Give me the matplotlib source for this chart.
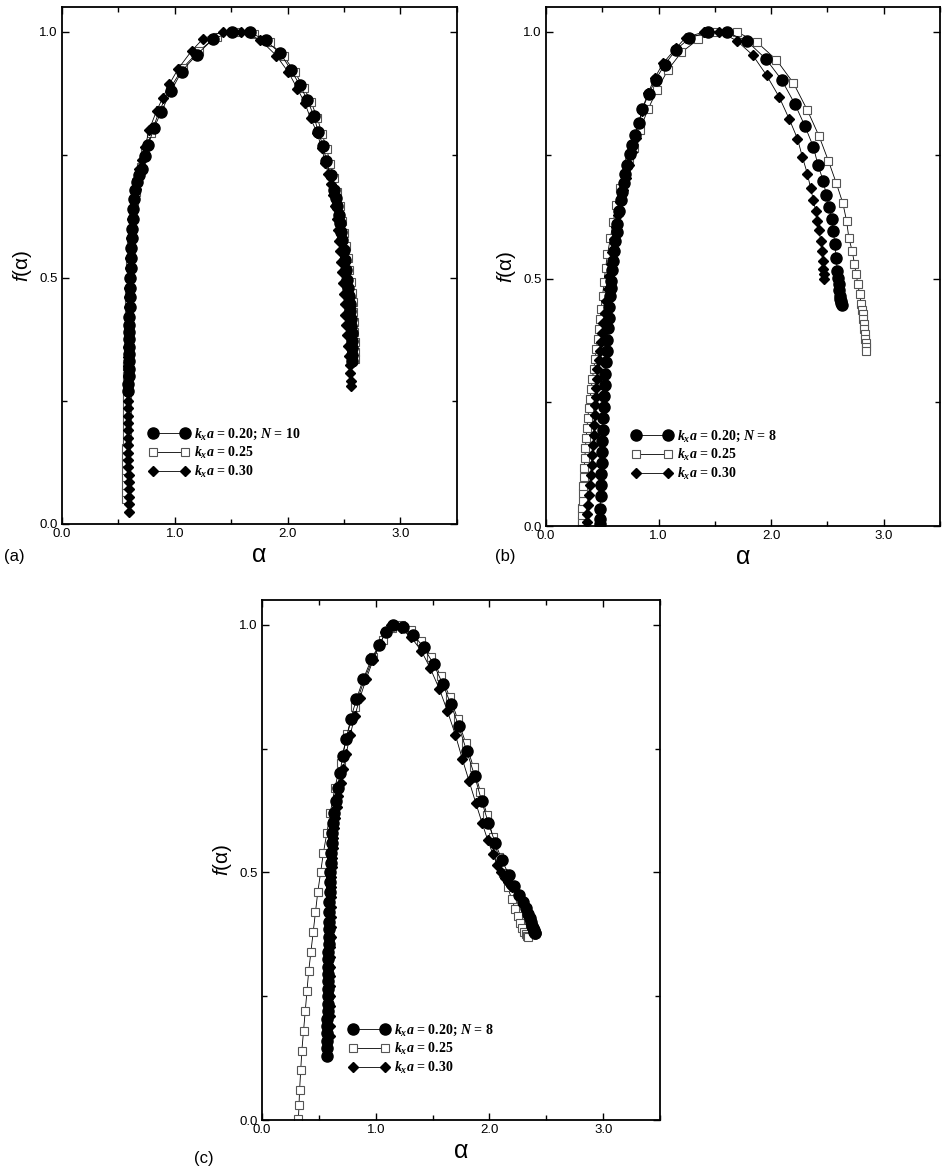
import matplotlib
matplotlib.use("Agg")
import matplotlib.pyplot as plt
from matplotlib.ticker import MultipleLocator, FormatStrFormatter

plt.rcParams['font.family'] = ['Liberation Sans', 'DejaVu Sans']
plt.rcParams['mathtext.fontset'] = 'custom'
plt.rcParams['mathtext.it'] = 'Liberation Serif:italic:bold'
plt.rcParams['mathtext.rm'] = 'Liberation Serif:bold'
plt.rcParams['mathtext.sf'] = 'Liberation Sans:italic'

# ---- panel (a): N = 10 ----  (alpha, f(alpha)) pairs
a_k020 = [(0.588, 0.270), (0.589, 0.285), (0.590, 0.300), (0.591, 0.315), (0.592, 0.330), (0.593, 0.345),
          (0.594, 0.360), (0.595, 0.375), (0.596, 0.390), (0.597, 0.405), (0.598, 0.420), (0.600, 0.440),
          (0.602, 0.460), (0.604, 0.480), (0.606, 0.500), (0.608, 0.520), (0.611, 0.540), (0.614, 0.560),
          (0.617, 0.580), (0.621, 0.600), (0.626, 0.620), (0.632, 0.640), (0.640, 0.660), (0.650, 0.678),
          (0.664, 0.695), (0.684, 0.708), (0.706, 0.720), (0.735, 0.747), (0.765, 0.770), (0.815, 0.804),
          (0.877, 0.836), (0.966, 0.879), (1.060, 0.919), (1.193, 0.953), (1.340, 0.985), (1.503, 1.000),
          (1.665, 0.999), (1.804, 0.982), (1.931, 0.957), (2.028, 0.923), (2.108, 0.891), (2.173, 0.862),
          (2.232, 0.829), (2.270, 0.797), (2.315, 0.767), (2.344, 0.737), (2.380, 0.709), (2.410, 0.679),
          (2.425, 0.662), (2.439, 0.645), (2.452, 0.628), (2.463, 0.611), (2.475, 0.594), (2.486, 0.577),
          (2.497, 0.557), (2.507, 0.537), (2.518, 0.516), (2.528, 0.496), (2.537, 0.479), (2.545, 0.462),
          (2.551, 0.447), (2.556, 0.432), (2.560, 0.417), (2.563, 0.402), (2.566, 0.387), (2.568, 0.372),
          (2.570, 0.358), (2.572, 0.344), (2.574, 0.330)]
a_k025 = [(0.568, 0.050), (0.568, 0.065), (0.569, 0.080), (0.569, 0.095), (0.570, 0.110), (0.570, 0.125),
          (0.571, 0.140), (0.571, 0.155), (0.572, 0.170), (0.572, 0.185), (0.573, 0.200), (0.573, 0.215),
          (0.574, 0.230), (0.574, 0.245), (0.575, 0.260), (0.576, 0.280), (0.578, 0.300), (0.580, 0.320),
          (0.582, 0.340), (0.584, 0.360), (0.586, 0.380), (0.588, 0.400), (0.591, 0.425), (0.594, 0.450),
          (0.597, 0.475), (0.600, 0.500), (0.604, 0.525), (0.608, 0.550), (0.613, 0.575), (0.619, 0.600),
          (0.627, 0.625), (0.637, 0.650), (0.652, 0.675), (0.672, 0.700), (0.700, 0.725), (0.740, 0.755),
          (0.791, 0.794), (0.865, 0.840), (0.960, 0.885), (1.070, 0.926), (1.210, 0.960), (1.370, 0.990),
          (1.540, 1.000), (1.700, 0.996), (1.840, 0.978), (1.965, 0.950), (2.063, 0.918), (2.143, 0.886),
          (2.208, 0.857), (2.262, 0.825), (2.305, 0.793), (2.345, 0.762), (2.378, 0.732), (2.410, 0.703),
          (2.440, 0.674), (2.462, 0.645), (2.482, 0.616), (2.500, 0.590), (2.518, 0.565), (2.533, 0.540),
          (2.546, 0.515), (2.558, 0.492), (2.568, 0.470), (2.576, 0.450), (2.582, 0.430), (2.587, 0.410),
          (2.591, 0.390), (2.594, 0.370), (2.596, 0.350), (2.598, 0.335)]
a_k030 = [(0.598, 0.025), (0.595, 0.040), (0.593, 0.055), (0.592, 0.070), (0.591, 0.085), (0.590, 0.100),
          (0.589, 0.115), (0.588, 0.130), (0.588, 0.145), (0.587, 0.160), (0.587, 0.175), (0.586, 0.190),
          (0.586, 0.205), (0.586, 0.220), (0.586, 0.235), (0.586, 0.250), (0.586, 0.265), (0.586, 0.280),
          (0.587, 0.300), (0.587, 0.320), (0.588, 0.340), (0.589, 0.360), (0.590, 0.380), (0.591, 0.400),
          (0.592, 0.420), (0.594, 0.440), (0.596, 0.460), (0.598, 0.480), (0.600, 0.500), (0.603, 0.520),
          (0.606, 0.540), (0.610, 0.560), (0.614, 0.580), (0.619, 0.600), (0.625, 0.620), (0.632, 0.640),
          (0.641, 0.660), (0.652, 0.680), (0.666, 0.700), (0.684, 0.720), (0.706, 0.740), (0.735, 0.765),
          (0.774, 0.801), (0.838, 0.839), (0.892, 0.865), (0.951, 0.893), (1.031, 0.925), (1.149, 0.961),
          (1.252, 0.986), (1.430, 1.000), (1.591, 1.000), (1.753, 0.984), (1.901, 0.951), (2.005, 0.918),
          (2.087, 0.884), (2.152, 0.855), (2.203, 0.824), (2.262, 0.794), (2.300, 0.764), (2.335, 0.734),
          (2.359, 0.711), (2.380, 0.690), (2.400, 0.668), (2.418, 0.645), (2.433, 0.620), (2.445, 0.597),
          (2.455, 0.575), (2.463, 0.555), (2.472, 0.533), (2.480, 0.512), (2.488, 0.490), (2.496, 0.468),
          (2.504, 0.447), (2.512, 0.425), (2.520, 0.404), (2.528, 0.383), (2.536, 0.362), (2.543, 0.342),
          (2.550, 0.323), (2.556, 0.306), (2.561, 0.291), (2.565, 0.280)]

# ---- panel (b): N = 8 ----
b_k020 = [(0.478, 0.005), (0.479, 0.015), (0.481, 0.035), (0.484, 0.060), (0.487, 0.083), (0.490, 0.105),
          (0.493, 0.128), (0.496, 0.150), (0.500, 0.172), (0.503, 0.195), (0.507, 0.218), (0.512, 0.240),
          (0.517, 0.263), (0.522, 0.286), (0.528, 0.308), (0.534, 0.331), (0.540, 0.354), (0.546, 0.377),
          (0.551, 0.400), (0.556, 0.421), (0.561, 0.443), (0.567, 0.465), (0.575, 0.482), (0.581, 0.496),
          (0.590, 0.517), (0.599, 0.537), (0.608, 0.557), (0.617, 0.577), (0.626, 0.595), (0.634, 0.611),
          (0.652, 0.638), (0.664, 0.659), (0.675, 0.676), (0.690, 0.694), (0.705, 0.713), (0.723, 0.730),
          (0.743, 0.752), (0.764, 0.770), (0.788, 0.791), (0.823, 0.816), (0.855, 0.843), (0.912, 0.874),
          (0.973, 0.903), (1.053, 0.933), (1.156, 0.964), (1.274, 0.987), (1.436, 1.000), (1.608, 0.999),
          (1.785, 0.981), (1.953, 0.945), (2.092, 0.903), (2.210, 0.854), (2.298, 0.810), (2.375, 0.767),
          (2.416, 0.730), (2.463, 0.698), (2.490, 0.669), (2.516, 0.645), (2.540, 0.621), (2.552, 0.597),
          (2.566, 0.570), (2.578, 0.543), (2.587, 0.516), (2.594, 0.502), (2.599, 0.489), (2.604, 0.477),
          (2.608, 0.466), (2.613, 0.460), (2.617, 0.455), (2.621, 0.451), (2.625, 0.448)]
b_k025 = [(0.316, 0.003), (0.318, 0.010), (0.320, 0.022), (0.323, 0.036), (0.326, 0.050), (0.329, 0.066),
          (0.332, 0.082), (0.336, 0.100), (0.340, 0.118), (0.345, 0.138), (0.350, 0.158), (0.356, 0.178),
          (0.363, 0.198), (0.371, 0.218), (0.380, 0.238), (0.390, 0.258), (0.401, 0.278), (0.412, 0.298),
          (0.424, 0.318), (0.436, 0.338), (0.447, 0.358), (0.458, 0.378), (0.468, 0.398), (0.478, 0.418),
          (0.490, 0.440), (0.502, 0.465), (0.515, 0.493), (0.529, 0.522), (0.546, 0.550), (0.572, 0.583),
          (0.596, 0.615), (0.625, 0.649), (0.660, 0.683), (0.700, 0.712), (0.740, 0.737), (0.782, 0.765),
          (0.832, 0.801), (0.906, 0.843), (0.988, 0.883), (1.083, 0.923), (1.201, 0.958), (1.354, 0.985),
          (1.510, 1.000), (1.693, 1.000), (1.873, 0.979), (2.047, 0.943), (2.198, 0.896), (2.322, 0.841),
          (2.425, 0.789), (2.508, 0.739), (2.578, 0.694), (2.637, 0.653), (2.670, 0.617), (2.690, 0.583),
          (2.720, 0.556), (2.740, 0.530), (2.755, 0.509), (2.770, 0.489), (2.785, 0.469), (2.800, 0.449),
          (2.807, 0.438), (2.814, 0.428), (2.819, 0.418), (2.823, 0.408), (2.828, 0.398), (2.832, 0.388),
          (2.835, 0.379), (2.838, 0.371), (2.840, 0.362), (2.841, 0.354)]
b_k030 = [(0.360, 0.008), (0.365, 0.025), (0.375, 0.042), (0.382, 0.062), (0.389, 0.083), (0.396, 0.103),
          (0.404, 0.123), (0.411, 0.143), (0.419, 0.164), (0.424, 0.185), (0.428, 0.205), (0.431, 0.225),
          (0.434, 0.245), (0.441, 0.262), (0.448, 0.279), (0.452, 0.298), (0.457, 0.317), (0.467, 0.336),
          (0.478, 0.354), (0.488, 0.372), (0.498, 0.391), (0.510, 0.410), (0.523, 0.432), (0.537, 0.455),
          (0.550, 0.480), (0.562, 0.505), (0.575, 0.530), (0.590, 0.555), (0.606, 0.580), (0.622, 0.605),
          (0.640, 0.630), (0.660, 0.655), (0.682, 0.680), (0.707, 0.705), (0.735, 0.730), (0.765, 0.757),
          (0.800, 0.785), (0.850, 0.840), (0.906, 0.876), (0.965, 0.906), (1.038, 0.936), (1.156, 0.967),
          (1.239, 0.988), (1.407, 1.000), (1.540, 1.000), (1.693, 0.982), (1.835, 0.953), (1.959, 0.912),
          (2.071, 0.868), (2.159, 0.824), (2.233, 0.784), (2.277, 0.747), (2.321, 0.713), (2.351, 0.683),
          (2.375, 0.659), (2.395, 0.638), (2.410, 0.618), (2.425, 0.598), (2.440, 0.577), (2.449, 0.557),
          (2.457, 0.537), (2.463, 0.520), (2.466, 0.510), (2.469, 0.500)]

# ---- panel (c): N = 8 ----
c_k020 = [(0.570, 0.130), (0.571, 0.145), (0.572, 0.160), (0.573, 0.175), (0.574, 0.190), (0.575, 0.205),
          (0.576, 0.220), (0.577, 0.235), (0.578, 0.250), (0.579, 0.265), (0.580, 0.280), (0.581, 0.295),
          (0.582, 0.310), (0.583, 0.325), (0.584, 0.340), (0.585, 0.355), (0.586, 0.370), (0.587, 0.385),
          (0.588, 0.400), (0.590, 0.420), (0.592, 0.440), (0.594, 0.460), (0.597, 0.480), (0.600, 0.500),
          (0.604, 0.520), (0.608, 0.540), (0.613, 0.560), (0.619, 0.580), (0.627, 0.600), (0.637, 0.620),
          (0.650, 0.645), (0.665, 0.670), (0.684, 0.700), (0.710, 0.735), (0.740, 0.770), (0.780, 0.810),
          (0.830, 0.850), (0.890, 0.890), (0.960, 0.930), (1.030, 0.960), (1.090, 0.985), (1.150, 1.000),
          (1.240, 0.995), (1.330, 0.980), (1.420, 0.955), (1.510, 0.920), (1.590, 0.880), (1.660, 0.840),
          (1.730, 0.795), (1.800, 0.745), (1.870, 0.695), (1.930, 0.645), (1.990, 0.600), (2.050, 0.560),
          (2.110, 0.525), (2.170, 0.495), (2.220, 0.472), (2.260, 0.455), (2.295, 0.440), (2.320, 0.428),
          (2.340, 0.417), (2.355, 0.407), (2.367, 0.399), (2.376, 0.392), (2.383, 0.387), (2.389, 0.383),
          (2.394, 0.380), (2.398, 0.378), (2.401, 0.377)]
c_k025 = [(0.320, 0.003), (0.325, 0.030), (0.330, 0.060), (0.340, 0.100), (0.350, 0.140), (0.365, 0.180),
          (0.380, 0.220), (0.395, 0.260), (0.410, 0.300), (0.430, 0.340), (0.450, 0.380), (0.470, 0.420),
          (0.490, 0.460), (0.515, 0.500), (0.540, 0.540), (0.570, 0.580), (0.600, 0.620), (0.640, 0.670),
          (0.690, 0.720), (0.750, 0.780), (0.820, 0.835), (0.900, 0.890), (0.980, 0.935), (1.060, 0.970),
          (1.140, 0.993), (1.220, 1.000), (1.310, 0.990), (1.400, 0.967), (1.490, 0.935), (1.570, 0.897),
          (1.650, 0.855), (1.720, 0.810), (1.790, 0.762), (1.860, 0.712), (1.920, 0.663), (1.980, 0.615),
          (2.030, 0.572), (2.080, 0.532), (2.120, 0.498), (2.160, 0.470), (2.195, 0.447), (2.225, 0.427),
          (2.250, 0.411), (2.270, 0.398), (2.290, 0.388), (2.305, 0.380), (2.318, 0.375), (2.328, 0.371),
          (2.335, 0.369)]
c_k030 = [(0.595, 0.170), (0.595, 0.190), (0.596, 0.210), (0.596, 0.230), (0.597, 0.250), (0.598, 0.270),
          (0.599, 0.290), (0.600, 0.310), (0.601, 0.330), (0.602, 0.350), (0.603, 0.370), (0.604, 0.390),
          (0.605, 0.410), (0.606, 0.430), (0.607, 0.450), (0.608, 0.470), (0.609, 0.490), (0.612, 0.510),
          (0.616, 0.530), (0.621, 0.550), (0.627, 0.570), (0.635, 0.590), (0.645, 0.610), (0.657, 0.632),
          (0.672, 0.655), (0.690, 0.680), (0.712, 0.708), (0.740, 0.740), (0.775, 0.777), (0.815, 0.815),
          (0.860, 0.852), (0.915, 0.890), (0.975, 0.928), (1.040, 0.962), (1.085, 0.985), (1.130, 1.000),
          (1.220, 0.993), (1.310, 0.975), (1.400, 0.948), (1.480, 0.912), (1.560, 0.870), (1.630, 0.826),
          (1.700, 0.778), (1.760, 0.730), (1.820, 0.685), (1.880, 0.640), (1.935, 0.600), (1.985, 0.565),
          (2.030, 0.537), (2.070, 0.515), (2.105, 0.500), (2.135, 0.489), (2.160, 0.481), (2.178, 0.476),
          (2.190, 0.473), (2.200, 0.471)]

kxa_labels = ["0.20", "0.25", "0.30"]
N_values = {"a": 10, "b": 8, "c": 8}


def draw_panel(ax, k020, k025, k030, N):
    x, y = zip(*k025)
    l2, = ax.plot(x, y, color="black", lw=0.6, marker="s", ms=6, mfc="white",
                  mec="#555555", mew=0.8, zorder=2)
    x, y = zip(*k030)
    l3, = ax.plot(x, y, color="black", lw=0.6, marker="D", ms=5.5, mfc="black",
                  mec="black", zorder=3)
    x, y = zip(*k020)
    l1, = ax.plot(x, y, color="black", lw=0.6, marker="o", ms=8, mfc="black",
                  mec="black", zorder=4)

    labels = [r"$k_x a$ = %s; $N$ = %d" % (kxa_labels[0], N),
              r"$k_x a$ = %s" % kxa_labels[1],
              r"$k_x a$ = %s" % kxa_labels[2]]
    ax.legend([l1, l2, l3], labels, loc="lower left", bbox_to_anchor=(0.219, 0.085),
              frameon=False, numpoints=2, handlelength=2.9, handletextpad=0.35,
              labelspacing=0.2, borderpad=0, borderaxespad=0,
              prop={"family": "Liberation Serif", "weight": "bold", "size": 10})

    ax.set_xlim(0, 3.5)
    ax.set_ylim(0, 1.05)
    ax.xaxis.set_major_locator(MultipleLocator(1.0))
    ax.xaxis.set_minor_locator(MultipleLocator(0.5))
    ax.yaxis.set_major_locator(MultipleLocator(0.5))
    ax.yaxis.set_minor_locator(MultipleLocator(0.25))
    ax.xaxis.set_major_formatter(FormatStrFormatter("%.1f"))
    ax.yaxis.set_major_formatter(FormatStrFormatter("%.1f"))
    ax.tick_params(which="both", direction="in", top=True, right=True, labelsize=9.5, width=1)
    ax.tick_params(which="major", length=5, pad=3)
    ax.tick_params(which="minor", length=3.5)
    for s in ax.spines.values():
        s.set_linewidth(1.3)
    ax.set_xlabel("α", fontsize=18, labelpad=2)
    ax.set_ylabel(r"$\mathsf{f}$(α)", fontsize=15, labelpad=4)


fig = plt.figure(figsize=(9.46, 11.69), dpi=100)
ax_a = fig.add_axes([0.0655, 0.5518, 0.4175, 0.4422])
ax_b = fig.add_axes([0.5772, 0.5500, 0.4165, 0.4440])
ax_c = fig.add_axes([0.2770, 0.0419, 0.4207, 0.4448])

draw_panel(ax_a, a_k020, a_k025, a_k030, N_values["a"])
draw_panel(ax_b, b_k020, b_k025, b_k030, N_values["b"])
draw_panel(ax_c, c_k020, c_k025, c_k030, N_values["c"])

fig.text(0.004, 1 - 557 / 1169, "(a)", fontsize=12, va="center", ha="left")
fig.text(0.523, 1 - 557 / 1169, "(b)", fontsize=12, va="center", ha="left")
fig.text(0.205, 1 - 1158 / 1169, "(c)", fontsize=12, va="center", ha="left")

fig.savefig("out.png", dpi=100)
